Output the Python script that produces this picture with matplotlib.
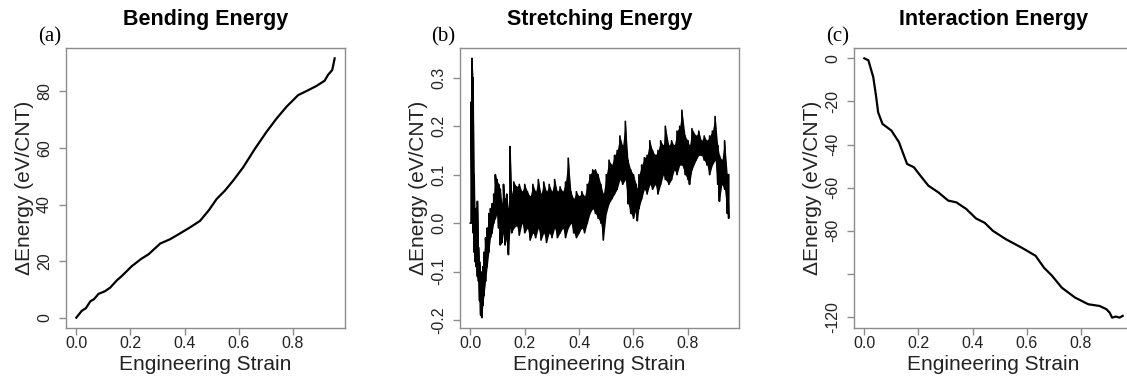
import numpy as np
import matplotlib
matplotlib.use("Agg")
import matplotlib.pyplot as plt

plt.rcParams['font.family'] = ['Liberation Sans', 'DejaVu Sans']

# (a) bending energy
strain_a = [0.0, 0.02, 0.035, 0.052, 0.065, 0.082, 0.105, 0.125, 0.15, 0.168,
            0.205, 0.24, 0.267, 0.31, 0.346, 0.38, 0.42, 0.457, 0.49, 0.519,
            0.55, 0.58, 0.617, 0.66, 0.703, 0.74, 0.777, 0.82, 0.85,
            0.887, 0.918, 0.93, 0.946, 0.955]
energy_a = [0.0, 2.4, 3.3, 5.8, 6.5, 8.4, 9.3, 10.6, 13.2, 14.7,
            18.2, 20.8, 22.4, 26.2, 27.7, 29.6, 31.9, 34.2, 38.0, 42.0,
            45.0, 48.5, 53.2, 59.7, 65.7, 70.4, 74.6, 78.7, 80.1,
            81.9, 83.8, 85.8, 87.6, 91.7]

# (b) stretching energy: noisy trace, read as low / high envelope per strain step
strain_b = [0.0, 0.003, 0.006, 0.010, 0.014, 0.018, 0.022, 0.026, 0.030, 0.034,
            0.038, 0.042, 0.046, 0.050, 0.056, 0.062, 0.068, 0.074, 0.080, 0.086,
            0.092, 0.098, 0.104, 0.110, 0.116, 0.122, 0.128, 0.134, 0.140, 0.146,
            0.152, 0.160, 0.170, 0.180, 0.190, 0.200, 0.210, 0.220, 0.230, 0.240,
            0.250, 0.260, 0.270, 0.280, 0.290, 0.300, 0.310, 0.320, 0.330, 0.340,
            0.350, 0.360, 0.370, 0.380, 0.390, 0.400, 0.410, 0.420, 0.430, 0.440,
            0.450, 0.460, 0.470, 0.480, 0.489, 0.500, 0.510, 0.520, 0.530, 0.540,
            0.550, 0.560, 0.570, 0.580, 0.590, 0.600, 0.610, 0.614, 0.620, 0.630,
            0.640, 0.650, 0.660, 0.670, 0.680, 0.690, 0.700, 0.710, 0.717, 0.730,
            0.740, 0.750, 0.760, 0.770, 0.778, 0.790, 0.800, 0.806, 0.815, 0.830,
            0.840, 0.850, 0.860, 0.870, 0.880, 0.890, 0.900, 0.910, 0.916, 0.925,
            0.935, 0.945, 0.950]
low_b = [0.0, 0.0, 0.05, -0.02, -0.06, -0.08, -0.09, -0.11, -0.12, -0.16,
         -0.19, -0.195, -0.17, -0.15, -0.12, -0.09, -0.06, -0.03, -0.02, 0.0,
         0.01, 0.02, -0.01, -0.045, -0.04, -0.02, -0.045, -0.03, -0.065, -0.01,
         -0.02, -0.01, -0.005, -0.025, 0.0, -0.02, -0.01, -0.035, -0.02, -0.03,
         -0.01, -0.035, -0.02, -0.04, -0.02, -0.03, -0.01, -0.03, -0.02, -0.01,
         -0.03, -0.01, 0.0, -0.02, -0.03, -0.02, -0.01, -0.02, 0.0, 0.02,
         0.03, 0.02, 0.01, 0.0, -0.035, 0.02, 0.04, 0.05, 0.06, 0.07,
         0.09, 0.08, 0.09, 0.04, 0.02, 0.01, 0.03, 0.005, 0.03, 0.05,
         0.07, 0.06, 0.08, 0.07, 0.08, 0.06, 0.08, 0.10, 0.09, 0.08,
         0.09, 0.11, 0.10, 0.12, 0.12, 0.10, 0.09, 0.08, 0.11, 0.13,
         0.14, 0.14, 0.13, 0.12, 0.10, 0.12, 0.13, 0.08, 0.045, 0.08,
         0.07, 0.02, 0.01]
high_b = [0.0, 0.25, 0.34, 0.30, 0.10, -0.02, 0.03, 0.045, -0.05, -0.08,
          -0.10, -0.12, -0.09, -0.06, -0.03, -0.01, 0.02, 0.03, 0.04, 0.06,
          0.10, 0.09, 0.08, 0.07, 0.04, 0.08, 0.05, 0.06, 0.03, 0.158,
          0.06, 0.085, 0.075, 0.08, 0.065, 0.08, 0.065, 0.055, 0.08, 0.065,
          0.09, 0.06, 0.085, 0.065, 0.08, 0.065, 0.09, 0.065, 0.075, 0.065,
          0.085, 0.134, 0.065, 0.05, 0.065, 0.055, 0.065, 0.055, 0.08, 0.10,
          0.11, 0.11, 0.10, 0.08, 0.06, 0.10, 0.13, 0.12, 0.14, 0.15,
          0.18, 0.16, 0.21, 0.13, 0.11, 0.10, 0.08, 0.07, 0.10, 0.12,
          0.135, 0.14, 0.17, 0.15, 0.14, 0.15, 0.17, 0.16, 0.20, 0.16,
          0.17, 0.16, 0.19, 0.20, 0.233, 0.18, 0.17, 0.16, 0.195, 0.18,
          0.19, 0.17, 0.18, 0.17, 0.18, 0.19, 0.22, 0.16, 0.14, 0.13,
          0.17, 0.10, 0.10]

# (c) interaction energy
strain_c = [0.0, 0.015, 0.033, 0.043, 0.051, 0.067, 0.10, 0.128, 0.158, 0.183,
            0.207, 0.237, 0.274, 0.31, 0.34, 0.377, 0.413, 0.445, 0.475, 0.523,
            0.584, 0.633, 0.664, 0.694, 0.73, 0.779, 0.828, 0.87, 0.895, 0.907,
            0.916, 0.93, 0.943, 0.955]
energy_c = [0.0, -0.9, -8.7, -17.2, -25.0, -30.4, -33.5, -38.9, -49.0, -50.5,
            -54.4, -59.1, -62.2, -66.0, -66.8, -69.9, -74.3, -76.3, -80.0, -83.9,
            -88.0, -91.6, -97.1, -100.9, -106.4, -111.0, -114.1, -114.9, -116.4, -118.0,
            -120.3, -119.8, -120.3, -119.5]

x_ticks = [0.0, 0.2, 0.4, 0.6, 0.8]
x_labels = ['0.0', '0.2', '0.4', '0.6', '0.8']
yticks_a = [0, 20, 40, 60, 80]
yticks_b = [-0.2, -0.1, 0.0, 0.1, 0.2, 0.3]
ylabels_b = ['-0.2', '-0.1', '0.0', '0.1', '0.2', '0.3']
yticks_c = [0, -20, -40, -60, -80, -100, -120]
ylabels_c = ['0', '-20', '-40', '-60', '-80', '', '-120']

titles = ['Bending Energy', 'Stretching Energy', 'Interaction Energy']
tags = ['(a)', '(b)', '(c)']

W, H = 1127, 376
fig = plt.figure(figsize=(W / 100, H / 100), dpi=100)
lefts = [66, 460, 854]
axs = [fig.add_axes([l / W, 48 / H, 279 / W, 280 / H]) for l in lefts]

box = '#8c8c8c'
for i, ax in enumerate(axs):
    for s in ax.spines.values():
        s.set_color(box)
        s.set_linewidth(1.0)
    ax.tick_params(length=5, width=1.0, color=box, labelsize=11.5,
                   labelcolor='#222222')
    ax.tick_params(axis='x', pad=1)
    ax.tick_params(axis='y', pad=5)
    ax.margins(x=0.04, y=0.04)
    ax.set_xticks(x_ticks)
    ax.set_xticklabels(x_labels)
    ax.set_xlabel('Engineering Strain', fontsize=15, color='#222222')
    ax.set_ylabel('\u0394Energy (eV/CNT)', fontsize=15, color='#222222')
    ax.xaxis.set_label_coords(0.5, -0.095)
    ax.yaxis.set_label_coords(-0.115, 0.5)
    ax.text(0.5, 1.1, titles[i], transform=ax.transAxes, ha='center',
            va='center', fontsize=15.5, fontweight='bold')
    ax.text(-0.06, 1.04, tags[i], transform=ax.transAxes, ha='center',
            va='center', fontsize=15, family='Liberation Serif')

axs[0].plot(strain_a, energy_a, color='black', lw=1.6)
axs[0].set_yticks(yticks_a)

# band between the read envelopes, then a zigzag through them for the ragged edge
axs[1].fill_between(strain_b, low_b, high_b, color='black', lw=0)
zx = np.repeat(strain_b, 2)
zy = np.column_stack([low_b, high_b]).ravel()
axs[1].plot(zx, zy, color='black', lw=1.2)
axs[1].set_yticks(yticks_b)
axs[1].set_yticklabels(ylabels_b)

axs[2].plot(strain_c, energy_c, color='black', lw=1.6)
axs[2].set_yticks(yticks_c)
axs[2].set_yticklabels(ylabels_c)

for ax in axs:
    for lab in ax.get_yticklabels():
        lab.set_rotation(90)
        lab.set_va('center')

fig.savefig('out.png', dpi=100)
